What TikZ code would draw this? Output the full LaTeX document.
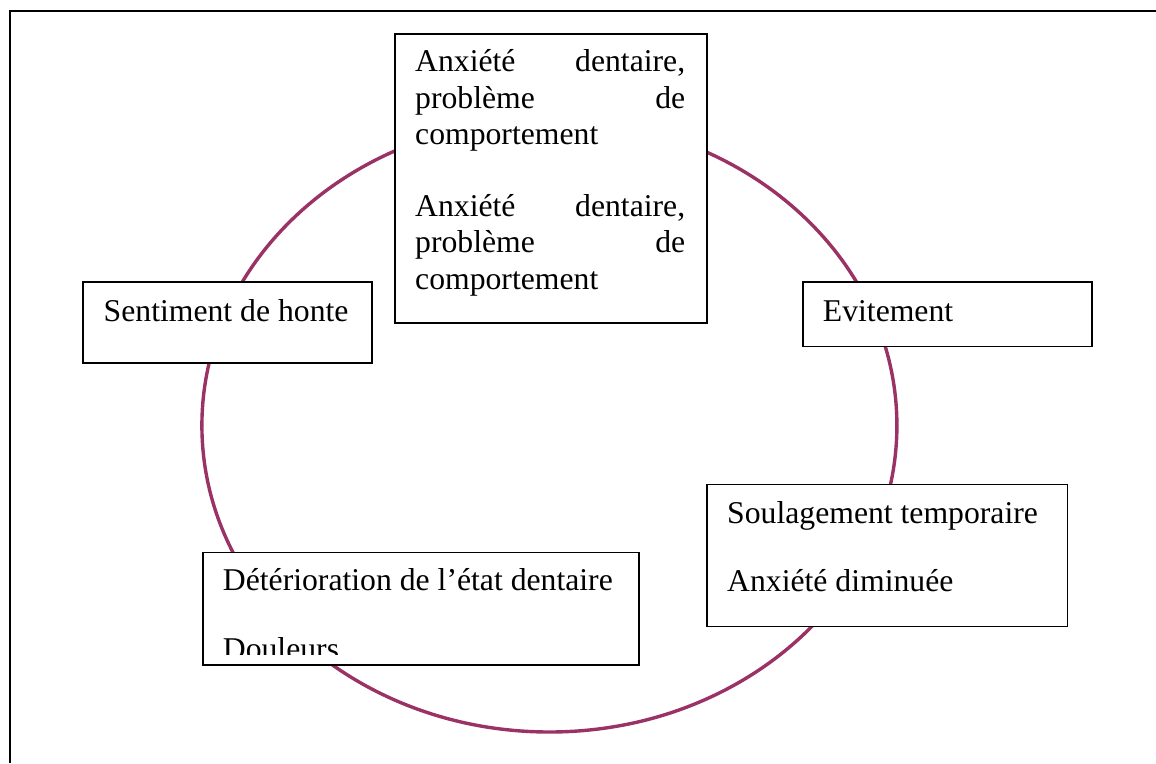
\documentclass[tikz,border=0pt]{standalone}
\usepackage{fontspec}
\setmainfont{Liberation Serif}
\definecolor{cyclecol}{RGB}{155,50,102}
\tikzset{
  box/.style={draw=black, line width=1.7pt, fill=white, rectangle, anchor=north west, inner sep=0pt},
  txt/.style={anchor=base west, inner sep=0pt, font=\fontsize{31.7pt}{36.4pt}\selectfont},
  cycle/.style={draw=cyclecol, line width=3.4pt},
  frame/.style={draw=black, line width=2pt}
}
\begin{document}
\begin{tikzpicture}[x=1pt,y=-1pt]
\useasboundingbox (0,0) rectangle (1156,763);
% outer frame
\coordinate (fb) at (9.5,763);
\coordinate (ftl) at (9.5,10.5);
\coordinate (fr) at (1156,10.5);
\draw[frame] (fb) -- (ftl) -- (fr);
% cycle
\coordinate (c) at (549.4,425.5);
\draw[cycle] (c) ellipse [x radius=347.5pt, y radius=306.5pt];
% boxes
\node[box, minimum width=312pt, minimum height=289pt] (top) at (394,33) {};
\node[box, minimum width=289pt, minimum height=81pt] (honte) at (82,281) {};
\node[box, minimum width=289pt, minimum height=64.5pt] (evit) at (802,281) {};
\node[box, minimum width=360.5pt, minimum height=142pt] (soul) at (706,483.5) {};
\node[box, minimum width=436pt, minimum height=112.5pt] (deter) at (202,551.7) {};
% texts
\node[txt] (t1) at (415,71.7) {\parbox[t]{270pt}{\baselineskip=36.4pt Anxiété\hfill dentaire,\\problème\hfill de\\comportement}};
\node[txt] (t2) at (415,216.5) {\parbox[t]{270pt}{\baselineskip=36.4pt Anxiété\hfill dentaire,\\problème\hfill de\\comportement}};
\node[txt] (thonte) at (103.5,321) {Sentiment de honte};
\node[txt] (tevit) at (822.7,321) {Evitement};
\node[txt] (tsoul1) at (727,523) {Soulagement temporaire};
\node[txt] (tsoul2) at (727,591.5) {Anxiété diminuée};
\node[txt] (tdet1) at (222.7,590.7) {Détérioration de l’état dentaire};
\begin{scope}
\clip (203,552) rectangle (637,654.3);
\node[txt] (tdet2) at (222.7,659.4) {Douleurs};
\end{scope}
\end{tikzpicture}
\end{document}
